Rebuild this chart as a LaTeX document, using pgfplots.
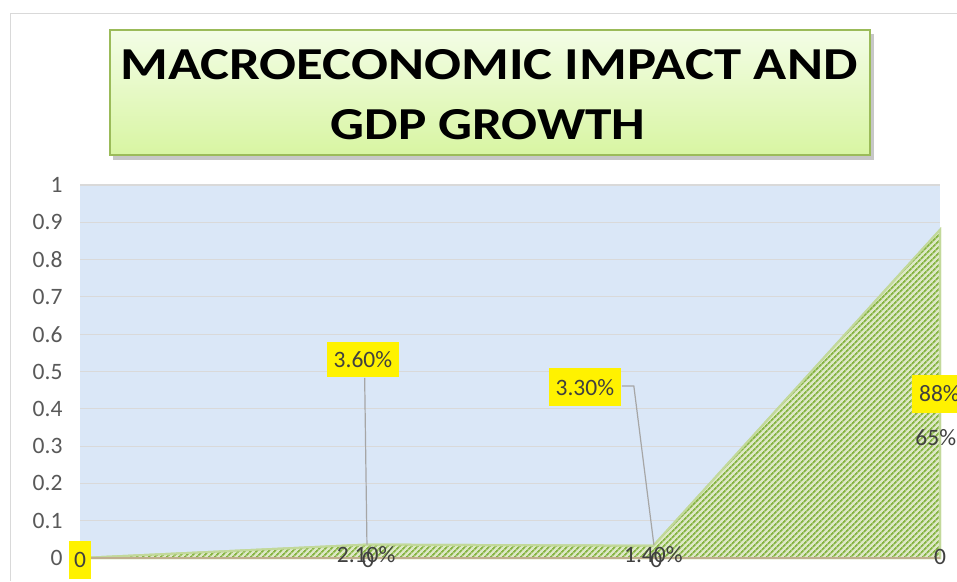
\documentclass[border=0pt]{standalone}
\usepackage{graphicx}
\usepackage{pgfplots}
\pgfplotsset{compat=1.18}
\usepackage{fontspec}
\setmainfont{Carlito}
\usetikzlibrary{patterns.meta}

\definecolor{bgblue}{HTML}{DAE7F7}
\definecolor{gridgray}{HTML}{D9D9D9}
\definecolor{labelgray}{HTML}{595959}
\definecolor{darktext}{HTML}{404040}
\definecolor{areabase}{HTML}{DDE8C6}
\definecolor{areagreen}{HTML}{86B443}
\definecolor{areaedge}{HTML}{C2D99A}
\definecolor{axistan}{HTML}{BFAE8E}
\definecolor{titletop}{HTML}{F3FDE6}
\definecolor{titlebot}{HTML}{D8F5A2}
\definecolor{titleborder}{HTML}{9BBB59}
\definecolor{leader}{HTML}{A6A6A6}

\begin{document}
\begin{tikzpicture}
\useasboundingbox (0pt,0pt) rectangle (957pt,581pt);
\fill[white] (0pt,0pt) rectangle (957pt,581pt);
\draw[gridgray, line width=1pt] (10pt,0pt) -- (10pt,567pt) -- (957pt,567pt);

% title box
\fill[black!22] (113pt,421pt) rectangle (874pt,547pt);
\shade[top color=titletop, bottom color=titlebot] (110pt,426pt) rectangle (870pt,551pt);
\draw[titleborder, line width=1.5pt] (110pt,426pt) rectangle (870pt,551pt);
\node[inner sep=0pt] at (489pt,516pt) {\resizebox{737pt}{30pt}{\bfseries MACROECONOMIC IMPACT AND}};
\node[inner sep=0pt] at (488pt,456pt) {\resizebox{315pt}{30pt}{\bfseries GDP GROWTH}};

\begin{axis}[
    at={(80pt,23pt)}, anchor=south west,
    width=860pt, height=373pt, scale only axis,
    xmin=0, xmax=3, ymin=0, ymax=1,
    xtick=\empty,
    ytick={0,0.1,0.2,0.3,0.4,0.5,0.6,0.7,0.8,0.9,1},
    yticklabels={0,0.1,0.2,0.3,0.4,0.5,0.6,0.7,0.8,0.9,1},
    axis line style={draw=none},
    major tick length=0pt,
    ymajorgrids=true,
    grid style={gridgray, line width=1.2pt},
    axis background/.style={fill=bgblue},
    yticklabel style={font=\fontsize{23.5}{24}\selectfont, text=labelgray, xshift=-14pt},
    clip=false,
]
    % GDP growth area
    \addplot[draw=areaedge, line width=2pt, fill=areabase,
        postaction={pattern={Lines[angle=45,distance=4pt,line width=1.9pt]}, pattern color=areagreen}]
        coordinates {(0,0) (1,0.036) (2,0.033) (3,0.88)} \closedcycle;

    \draw[axistan, line width=1.5pt] (axis cs:0,0) -- (axis cs:3,0);

    % leader lines
    \draw[leader, line width=1.2pt] (axis cs:0.993,0.483) -- (axis cs:1.001,0.036);
    \draw[leader, line width=1.2pt] (axis cs:1.890,0.461) -- (axis cs:1.932,0.461) -- (axis cs:2.002,0.035);

    % data labels
    \tikzset{lab/.style={font=\fontsize{23.5}{24}\selectfont, text=darktext}}
    \tikzset{ylab/.style={lab, fill=yellow, minimum height=38pt, inner xsep=7pt}}
    \node[ylab, inner xsep=5pt] at (axis cs:0,-0.005) {0};
    \node[ylab, minimum height=35pt] at (axis cs:0.987,0.531) {3.60\%};
    \node[ylab] at (axis cs:1.761,0.458) {3.30\%};
    \node[ylab, anchor=west] at (axis cs:2.902,0.44) {88\%};
    \node[lab, anchor=west] at (axis cs:2.902,0.324) {65\%};
    \node[lab] at (axis cs:0.998,0.008) {2.10\%};
    \node[lab] at (axis cs:2.0,0.008) {1.40\%};
    \node[lab] at (axis cs:1.005,-0.005) {0};
    \node[lab] at (axis cs:2.01,-0.005) {0};
    \node[lab] at (axis cs:3.0,0.002) {0};
\end{axis}
\end{tikzpicture}
\end{document}
